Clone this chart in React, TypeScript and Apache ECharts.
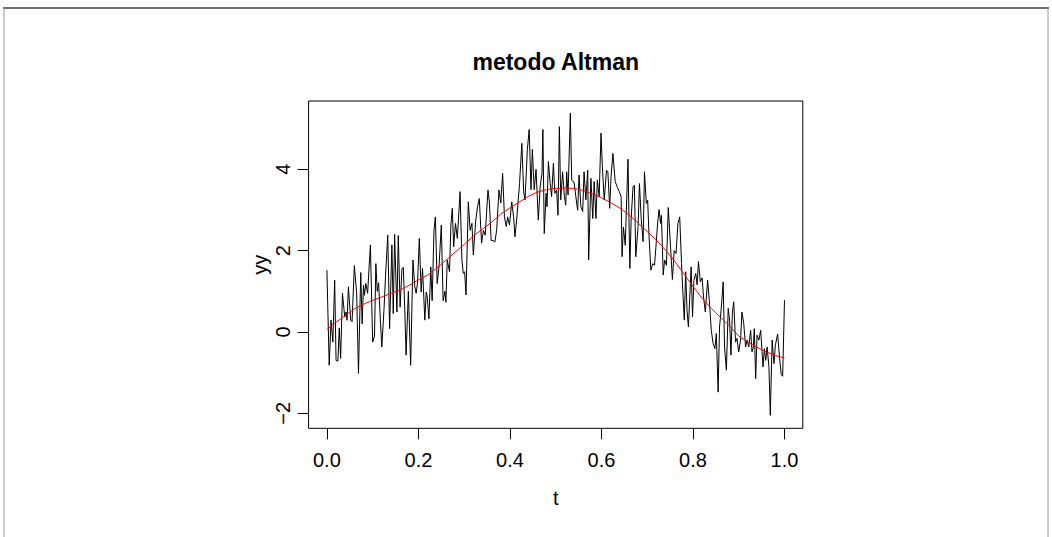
import React, { useEffect, useRef } from "react";
import * as echarts from "echarts";

// noisy observations (t, yy)
const tNoisy = [
  0.000,0.005,0.009,0.013,0.017,0.020,0.024,0.027,0.030,0.034,
  0.039,0.042,0.044,0.047,0.052,0.055,0.060,0.065,0.069,0.074,
  0.077,0.080,0.082,0.085,0.089,0.095,0.100,0.104,0.107,0.110,
  0.113,0.117,0.120,0.125,0.128,0.133,0.137,0.142,0.145,0.148,
  0.153,0.156,0.160,0.164,0.167,0.170,0.173,0.178,0.183,
  0.188,0.192,0.195,0.198,0.202,0.206,0.209,0.214,0.217,0.219,
  0.223,0.227,0.230,0.234,0.237,0.241,0.245,0.250,0.254,0.258,
  0.260,0.263,0.268,0.271,0.274,0.277,0.281,0.285,0.291,0.295,
  0.298,0.301,0.304,0.309,0.313,0.317,0.320,0.325,0.329,0.333,
  0.338,0.342,0.346,0.352,0.355,0.359,0.363,0.367,0.371,0.376,
  0.380,0.384,0.388,0.392,0.395,0.399,0.404,0.408,0.411,0.415,
  0.421,0.426,0.430,0.433,0.438,0.442,0.446,0.449,0.453,0.457,
  0.462,0.466,0.470,0.472,0.475,
  0.479,0.481,0.484,0.488,0.491,0.495,0.498,0.502,0.505,0.508,
  0.511,0.515,0.519,0.522,0.524,0.527,0.532,0.535,0.538,0.540,
  0.544,0.548,0.551,0.555,0.559,0.562,0.566,0.570,0.572,0.577,
  0.581,0.584,0.588,0.591,0.595,0.599,0.602,0.606,0.611,0.614,
  0.618,0.621,0.625,0.630,0.635,0.639,0.643,
  0.645,0.648,0.652,0.658,0.662,0.665,0.669,0.672,0.675,0.680,
  0.683,0.687,0.691,0.694,0.698,0.701,0.704,0.708,0.712,0.716,
  0.719,0.723,0.726,0.729,0.731,0.735,0.738,0.742,0.746,0.751,
  0.755,0.759,0.763,0.767,0.771,0.775,0.778,0.781,0.784,0.787,
  0.790,0.793,0.796,0.799,0.802,0.806,0.809,0.812,
  0.816,0.820,0.823,0.827,0.832,0.836,0.840,0.844,0.848,0.851,
  0.855,0.858,0.862,0.866,0.869,0.873,0.877,0.880,0.883,0.886,
  0.889,0.893,0.896,0.900,0.904,0.907,0.911,0.915,0.918,0.922,
  0.926,0.929,0.932,0.934,0.937,0.940,0.944,0.948,0.951,0.953,
  0.956,0.959,0.962,0.966,0.969,0.973,0.977,0.980,0.985,0.989,
  0.993,0.996,1.000,
];

const yNoisy = [
  1.52,-0.82,0.29,-0.25,1.27,-0.70,-0.72,0.10,-0.65,0.95,
  0.37,0.49,0.29,1.11,0.29,0.25,1.63,0.95,-1.02,1.46,
  0.20,1.15,0.90,1.19,0.95,2.14,-0.25,-0.10,1.68,1.00,
  1.21,0.25,-0.37,0.60,1.35,2.38,0.08,2.14,0.45,2.40,
  0.49,2.37,0.61,1.55,1.59,0.61,-0.57,1.00,-0.82,
  1.77,1.12,0.95,1.20,2.30,0.98,1.56,0.29,0.98,0.90,
  0.32,1.60,0.77,2.50,2.83,1.19,1.60,2.63,0.77,1.00,
  0.73,1.77,1.48,2.63,3.04,2.09,2.67,2.30,3.45,1.77,
  1.44,1.48,0.91,3.20,2.50,2.67,1.89,2.71,3.07,3.28,
  2.18,2.50,2.38,3.49,3.20,2.25,2.25,2.21,2.50,3.49,
  3.17,3.90,2.83,2.59,2.83,2.63,3.20,2.83,2.34,2.80,
  3.65,4.64,3.45,3.25,4.48,4.98,3.50,4.49,3.50,4.00,
  2.75,3.57,3.90,4.98,2.42,
  3.41,3.08,4.19,3.65,3.33,4.15,3.41,3.49,2.87,5.05,
  3.25,3.94,3.33,3.12,3.94,3.37,5.38,3.73,3.70,3.69,
  3.33,2.99,3.86,3.08,2.96,3.94,3.25,3.98,1.77,3.78,
  2.79,3.70,2.79,3.74,3.33,4.89,4.06,3.25,3.98,3.94,
  3.04,3.82,4.39,3.70,3.55,3.45,3.33,
  1.85,2.58,2.13,4.25,1.56,2.80,3.57,3.61,1.85,2.58,
  3.65,2.76,2.22,3.94,3.16,3.24,2.34,1.52,1.68,1.64,
  2.09,2.71,3.01,2.67,2.87,1.40,1.77,1.64,3.06,2.09,
  1.29,2.00,1.93,2.66,2.83,1.68,0.95,0.29,1.48,0.53,
  0.12,0.86,1.60,0.37,1.27,1.44,1.16,1.73,
  1.23,1.33,0.86,0.49,1.27,0.74,0.04,-0.29,-0.41,-0.04,
  -1.48,0.12,0.61,1.23,-0.37,-0.94,0.58,0.29,-0.57,0.45,
  0.74,-0.25,-0.16,-0.49,-0.20,0.49,0.20,-0.37,-0.20,-0.37,
  0.04,-0.49,-0.37,0.08,-1.15,-0.08,-0.20,0.04,-0.49,-0.86,
  -0.41,-0.70,-0.37,-0.86,-2.05,-0.20,-0.78,-0.33,-0.05,-0.62,
  -1.05,-1.09,0.78,
];

// Altman kernel estimate (red curve)
const tSmooth = [
  0.00,0.02,0.04,0.06,0.08,0.10,0.12,0.14,0.16,0.18,
  0.20,0.22,0.24,0.26,0.28,0.30,0.32,0.34,0.36,0.38,
  0.40,0.42,0.44,0.46,0.48,0.50,0.52,0.54,0.56,0.58,
  0.60,0.62,0.64,0.66,0.68,0.70,0.72,0.74,0.76,0.78,
  0.80,0.82,0.84,0.86,0.88,0.90,0.92,0.94,0.96,0.98,
  1.00,
];
const ySmooth = [
  0.06,0.24,0.40,0.57,0.68,0.78,0.86,0.95,1.03,1.15,
  1.28,1.40,1.57,1.76,1.96,2.15,2.36,2.53,2.70,2.90,
  3.05,3.19,3.33,3.44,3.50,3.53,3.54,3.53,3.48,3.40,
  3.30,3.18,3.05,2.88,2.68,2.47,2.26,2.01,1.74,1.43,
  1.12,0.83,0.58,0.36,0.14,-0.10,-0.25,-0.38,-0.49,-0.58,
  -0.64,
];

const xTicks = [0, 0.2, 0.4, 0.6, 0.8, 1.0];
const yTicks = [-2, 0, 2, 4];
const titleText = "metodo Altman";
const xName = "t";
const yName = "yy";

const FONT = '"Liberation Sans", Arial, Helvetica, sans-serif';

export default function App() {
  const ref = useRef<HTMLDivElement>(null);

  useEffect(() => {
    if (!ref.current) return;
    const chart = echarts.init(ref.current, null, { renderer: "svg" });
    const n = Math.min(tNoisy.length, yNoisy.length);
    const noisy: number[][] = [];
    for (let i = 0; i < n; i++) noisy.push([tNoisy[i], yNoisy[i]]);
    const smooth: number[][] = tSmooth.map((t, i) => [t, ySmooth[i]]);

    const option: any = {
      animation: false,
      backgroundColor: "#ffffff",
      textStyle: { fontFamily: FONT },
      grid: {
        left: 308.6,
        right: 1052 - 802.8,
        top: 101,
        bottom: 537 - 428.3,
        show: true,
        borderColor: "#000",
        borderWidth: 1,
        backgroundColor: "transparent",
      },
      xAxis: {
        type: "value",
        position: "bottom",
        min: -0.04,
        max: 1.04,
        name: xName,
        nameLocation: "middle",
        nameGap: 60,
        nameTextStyle: { fontSize: 20, color: "#000", fontFamily: FONT },
        axisLine: { show: false, onZero: false },
        splitLine: { show: false },
        axisTick: {
          show: true,
          inside: false,
          length: 11,
          customValues: xTicks,
          lineStyle: { color: "#000", width: 1 },
        },
        axisLabel: {
          show: true,
          customValues: xTicks,
          margin: 22,
          fontSize: 20,
          color: "#000",
          fontFamily: FONT,
          formatter: (v: number) => v.toFixed(1),
        },
      },
      yAxis: {
        type: "value",
        position: "left",
        min: -2.37,
        max: 5.68,
        name: yName,
        nameLocation: "middle",
        nameGap: 39,
        nameRotate: 90,
        nameTextStyle: { fontSize: 20, color: "#000", fontFamily: FONT },
        axisLine: { show: false, onZero: false },
        splitLine: { show: false },
        axisTick: {
          show: true,
          inside: false,
          length: 11,
          customValues: yTicks,
          lineStyle: { color: "#000", width: 1 },
        },
        axisLabel: {
          show: true,
          customValues: yTicks,
          rotate: 90,
          margin: 16,
          fontSize: 20,
          color: "#000",
          fontFamily: FONT,
          formatter: (v: number) => String(v).replace("-", "\u2212"),
        },
      },
      graphic: [
        {
          type: "line",
          shape: { x1: 3, y1: 8, x2: 1049, y2: 8 },
          style: { stroke: "#6e6e6e", lineWidth: 2 },
          silent: true,
        },
        {
          type: "line",
          shape: { x1: 4, y1: 8, x2: 4, y2: 537 },
          style: { stroke: "#9a9a9a", lineWidth: 1 },
          silent: true,
        },
        {
          type: "line",
          shape: { x1: 1048, y1: 8, x2: 1048, y2: 537 },
          style: { stroke: "#9a9a9a", lineWidth: 1 },
          silent: true,
        },
        {
          type: "text",
          x: 555.7,
          y: 62,
          style: {
            text: titleText,
            fontSize: 23,
            fontWeight: "bold",
            fontFamily: FONT,
            fill: "#000",
            align: "center",
            verticalAlign: "middle",
          },
        },
      ],
      series: [
        {
          type: "line",
          data: noisy,
          symbol: "none",
          lineStyle: { color: "#000", width: 1 },
          z: 2,
        },
        {
          type: "line",
          data: smooth,
          symbol: "none",
          lineStyle: { color: "#ff0000", width: 1 },
          z: 3,
        },
      ],
    };
    chart.setOption(option);
    return () => chart.dispose();
  }, []);

  return (
    <div
      ref={ref}
      style={{ position: "fixed", left: 0, top: 0, width: 1052, height: 537 }}
    />
  );
}
